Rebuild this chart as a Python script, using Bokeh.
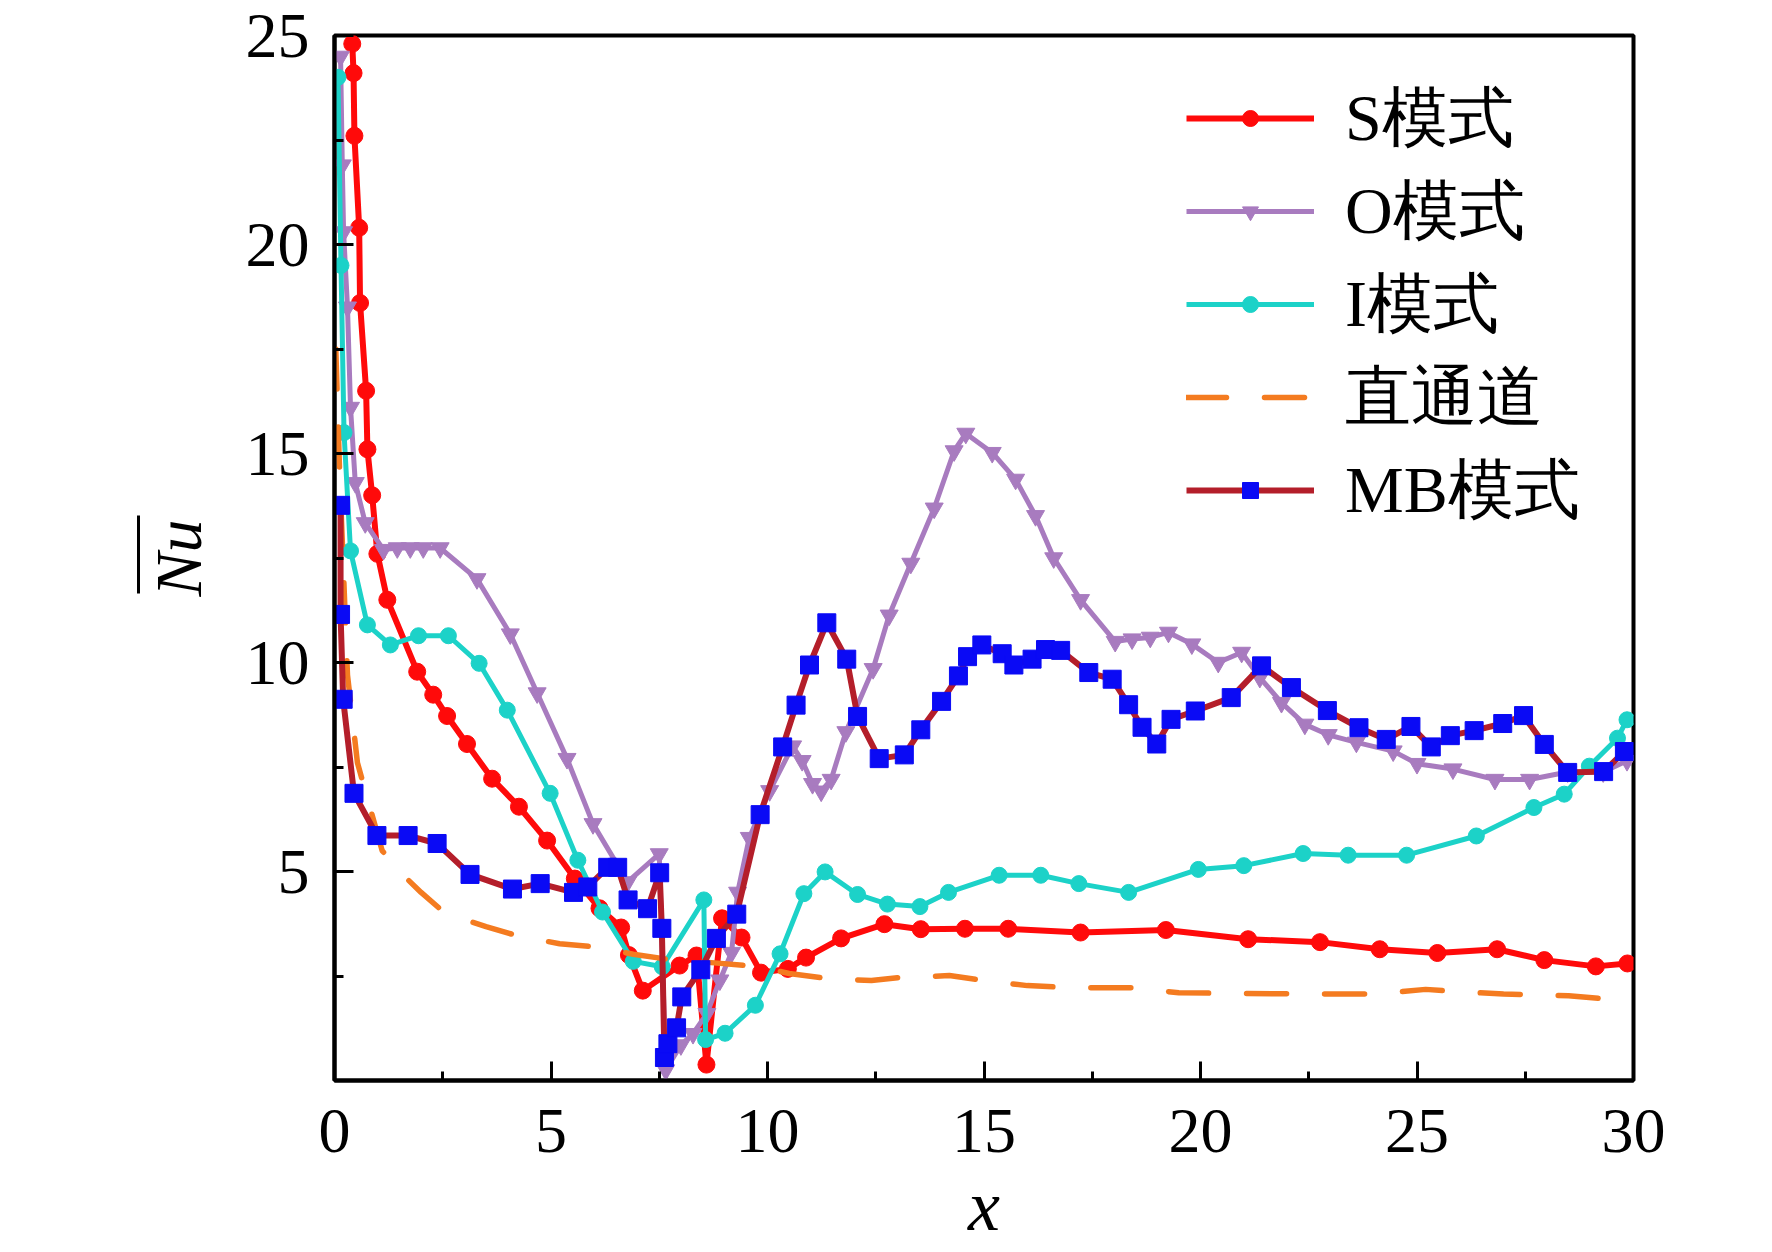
from bokeh.plotting import figure
from bokeh.models import Range1d, FixedTicker, Legend, LegendItem, LinearAxis
from bokeh.embed import file_html
from bokeh.resources import INLINE

# ---------------- data ----------------
s_x = [0.41, 0.44, 0.46, 0.57, 0.59, 0.73, 0.76, 0.87, 0.99, 1.22, 1.91, 2.28, 2.6, 3.06, 3.64,
       4.26, 4.91, 5.55, 6.12, 6.62, 6.8, 7.12, 7.97, 8.36, 8.59, 8.95, 9.4, 9.85, 10.47, 10.89,
       11.7, 12.7, 13.54, 14.56, 15.56, 17.23, 19.2, 21.1, 22.76, 24.14, 25.47, 26.85, 27.94,
       29.13, 29.86]
s_y = [24.8, 24.1, 22.6, 20.4, 18.6, 16.5, 15.1, 14.0, 12.6, 11.5, 9.78, 9.23, 8.72, 8.05, 7.22,
       6.55, 5.74, 4.83, 4.12, 3.66, 3.0, 2.15, 2.75, 2.99, 0.38, 3.88, 3.42, 2.58, 2.67, 2.94,
       3.4, 3.74, 3.62, 3.63, 3.63, 3.54, 3.6, 3.38, 3.31, 3.14, 3.05, 3.14, 2.88,
       2.73, 2.80]

o_x = [0.14, 0.18, 0.21, 0.3, 0.37, 0.48, 0.71, 1.13, 1.45, 1.75, 2.05, 2.44, 3.29, 4.06, 4.68,
       5.37, 5.97, 6.77, 7.5, 7.65, 8.0, 8.28, 8.6, 8.9, 9.17, 9.31, 9.58, 10.05, 10.58, 10.8,
       11.04, 11.24, 11.47, 11.81, 12.44, 12.81, 13.31, 13.85, 14.31, 14.58, 15.19, 15.73,
       16.19, 16.61, 17.23, 18.03, 18.42, 18.84, 19.26, 19.8, 20.41, 20.95, 21.37, 21.87,
       22.41, 22.95, 23.6, 24.45, 25.0, 25.83, 26.8, 27.6, 28.48, 29.3, 29.85]
o_y = [24.5, 21.9, 20.3, 18.5, 16.1, 14.3, 13.34, 12.7, 12.74, 12.74, 12.74, 12.74, 12.0, 10.68,
       9.27, 7.7, 6.14, 4.75, 5.42, 0.25, 0.85, 1.12, 1.6, 2.4, 3.06, 4.5, 5.81, 6.93, 8.0, 7.65,
       7.1, 6.92, 7.2, 8.34, 9.85, 11.13, 12.37, 13.69, 15.06, 15.48, 15.02, 14.38,
       13.51, 12.5, 11.5, 10.5, 10.56, 10.6, 10.72, 10.44, 10.0, 10.24, 9.64, 9.04,
       8.52, 8.27, 8.09, 7.88, 7.58, 7.45, 7.2, 7.2, 7.38, 7.38, 7.65]

i_x = [0.08, 0.15, 0.22, 0.37, 0.76, 1.29, 1.94, 2.63, 3.34, 3.99, 4.98, 5.62, 6.19, 6.9, 7.57,
       8.53, 8.57, 9.02, 9.72, 10.29, 10.84, 11.33, 12.08, 12.77, 13.52, 14.18, 15.35, 16.31,
       17.19, 18.34, 19.95, 21.0, 22.37, 23.41, 24.76, 26.37, 27.7, 28.4, 28.98, 29.63, 29.85]
i_y = [24.0, 19.5, 15.5, 12.67, 10.9, 10.42, 10.64, 10.64, 9.98, 8.86, 6.87, 5.27, 4.03, 2.85, 2.72,
       4.32, 0.98, 1.13, 1.8, 3.03, 4.47, 4.99, 4.45, 4.22, 4.16, 4.5, 4.91, 4.91,
       4.71, 4.5, 5.05, 5.14, 5.43, 5.39, 5.39, 5.85, 6.53, 6.85, 7.52, 8.19, 8.63]

st_x = [0.03, 0.12, 0.3, 0.53, 1.1, 1.6, 2.0, 2.5, 3.0, 3.5, 4.2, 5.2, 6.0, 6.9, 7.7, 8.7, 9.5,
        10.0, 10.5, 11.3, 12.4, 13.0, 14.2, 15.0, 16.0, 17.0, 18.4, 19.5, 21.0, 23.0, 24.0,
        25.2, 26.0, 27.0, 28.5, 29.9]
st_y = [17.5, 14.5, 9.7, 7.6, 5.5, 4.9, 4.5, 4.05, 3.85, 3.68, 3.47, 3.27, 3.2, 3.02, 2.9, 2.82,
        2.75, 2.68, 2.56, 2.45, 2.39, 2.46, 2.51, 2.39, 2.27, 2.22, 2.22, 2.1, 2.08, 2.07, 2.07,
        2.18, 2.12, 2.07, 2.03, 1.9]

mb_x = [0.14, 0.14, 0.2, 0.45, 0.98, 1.7, 2.37, 3.13, 4.11, 4.75, 5.52, 5.85, 6.31, 6.54, 6.78,
        7.23, 7.51, 7.56, 7.62, 7.7, 7.9, 8.02, 8.46, 8.82, 9.29, 9.83, 10.35, 10.66, 10.97,
        11.37, 11.83, 12.08, 12.58, 13.16, 13.54, 14.02, 14.41, 14.62, 14.95, 15.42, 15.69,
        16.11, 16.42, 16.77, 17.42, 17.96, 18.34, 18.65, 18.99, 19.32, 19.88, 20.71, 21.41,
        22.1, 22.93, 23.66, 24.29, 24.86, 25.33, 25.77, 26.32, 26.98, 27.46, 27.94, 28.48,
        29.31, 29.79]
mb_y = [13.76, 11.15, 9.12, 6.87, 5.86, 5.86, 5.67, 4.93, 4.58, 4.71, 4.5, 4.63, 5.1, 5.1, 4.32,
        4.11, 4.97, 3.64, 0.55, 0.88, 1.26, 2.0, 2.65, 3.4, 3.98, 6.36, 7.98, 8.98, 9.94,
        10.95, 10.08, 8.71, 7.7, 7.79, 8.39, 9.07, 9.68, 10.14, 10.42, 10.21, 9.94,
        10.08, 10.31, 10.29, 9.76, 9.6, 8.99, 8.45, 8.05, 8.64, 8.84, 9.16, 9.92,
        9.4, 8.85, 8.44, 8.16, 8.47, 7.98, 8.25, 8.37, 8.54, 8.73, 8.04, 7.37,
        7.39, 7.87]

labels = ["S模式", "O模式", "I模式", "直通道", "MB模式"]
x_ticks = [0, 5, 10, 15, 20, 25, 30]
x_minor = [2.5, 7.5, 12.5, 17.5, 22.5, 27.5]
y_ticks = [5, 10, 15, 20, 25]
y_minor = [2.5, 7.5, 12.5, 17.5, 22.5]

# ---------------- figure ----------------
SERIF = "Liberation Serif"

W, H = 1772, 1252
BL, BR, BT, BB = 334, 139, 35, 172
FW, FH = W - BL - BR, H - BT - BB

p = figure(width=W, height=H, output_backend="svg", toolbar_location=None,
           x_range=Range1d(0, 30), y_range=Range1d(0, 25),
           min_border_left=BL, min_border_right=BR, min_border_top=BT, min_border_bottom=BB)
p.grid.visible = False
p.background_fill_color = "white"
p.border_fill_color = "white"
p.outline_line_color = "black"
p.outline_line_width = 4

p.xaxis.ticker = FixedTicker(ticks=x_ticks, minor_ticks=x_minor)
p.yaxis.ticker = FixedTicker(ticks=y_ticks, minor_ticks=y_minor)
for ax in (p.xaxis[0], p.yaxis[0]):
    ax.axis_line_width = 4
    ax.axis_line_color = "black"
    ax.major_tick_in = 19
    ax.major_tick_out = 0
    ax.minor_tick_in = 9
    ax.minor_tick_out = 0
    ax.major_tick_line_width = 3
    ax.minor_tick_line_width = 3
    ax.major_tick_line_color = "black"
    ax.minor_tick_line_color = "black"
    ax.major_label_text_font = SERIF
    ax.major_label_text_font_size = "64px"
    ax.major_label_text_color = "black"
    ax.axis_label_text_font = SERIF
    ax.axis_label_text_font_style = "italic"
    ax.axis_label_text_color = "black"

p.xaxis.major_label_standoff = 29
p.xaxis.major_label_text_line_height = 1.0
p.xaxis.axis_label = "x"
p.xaxis.axis_label_text_font_size = "72px"
p.xaxis.axis_label_text_line_height = 1.0
p.xaxis.axis_label_standoff = 11
p.yaxis.major_label_standoff = 25
p.yaxis.axis_label = "Nu"
p.yaxis.axis_label_text_font_size = "66px"
p.yaxis.axis_label_standoff = 28

# the bar over "Nu": the line of an otherwise empty outer axis, limited by bounds
bar_axis = LinearAxis(ticker=FixedTicker(ticks=[]), bounds=(11.65, 13.52),
                      axis_line_width=3, axis_line_color="black",
                      major_tick_in=0, major_tick_out=0, minor_tick_in=0, minor_tick_out=0,
                      major_label_text_font_size="1px")
p.add_layout(bar_axis, "left")

RED = "#FF0A0A"
PURPLE = "#A87BBF"
CYAN = "#1CD2C8"
ORANGE = "#F47B20"
BRICK = "#B41E2A"
BLUE = "#0A0AF5"

r_s_l = p.line(s_x, s_y, line_color=RED, line_width=6)
r_s_m = p.scatter(s_x, s_y, marker="circle", size=17, fill_color=RED, line_color=RED)

r_o_l = p.line(o_x, o_y, line_color=PURPLE, line_width=5)
r_o_m = p.scatter(o_x, o_y, marker="inverted_triangle", size=18, fill_color=PURPLE, line_color=PURPLE)

r_i_l = p.line(i_x, i_y, line_color=CYAN, line_width=5)
r_i_m = p.scatter(i_x, i_y, marker="circle", size=16, fill_color=CYAN, line_color=CYAN)

r_st = p.line(st_x, st_y, line_color=ORANGE, line_width=5.5, line_dash="40 38", line_cap="round")

r_mb_l = p.line(mb_x, mb_y, line_color=BRICK, line_width=6)
r_mb_m = p.scatter(mb_x, mb_y, marker="square", size=18, fill_color=BLUE, line_color=BLUE)

# ---------------- legend ----------------
RH, SP = 91, 3
leg_h = 5 * RH + 4 * SP
legend = Legend(items=[
    LegendItem(label=labels[0], renderers=[r_s_l, r_s_m]),
    LegendItem(label=labels[1], renderers=[r_o_l, r_o_m]),
    LegendItem(label=labels[2], renderers=[r_i_l, r_i_m]),
    LegendItem(label=labels[3], renderers=[r_st]),
    LegendItem(label=labels[4], renderers=[r_mb_l, r_mb_m]),
], location=(852, FH - 32.5 - leg_h))
legend.border_line_color = None
legend.background_fill_alpha = 0
legend.padding = 0
legend.margin = 0
legend.spacing = SP
legend.glyph_width = 128
legend.glyph_height = 40
legend.label_height = 40
legend.label_standoff = 31
legend.label_text_font = SERIF
legend.label_text_font_size = "66px"
legend.label_text_color = "black"
p.add_layout(legend)

open("out.html", "w").write(file_html(p, INLINE))
